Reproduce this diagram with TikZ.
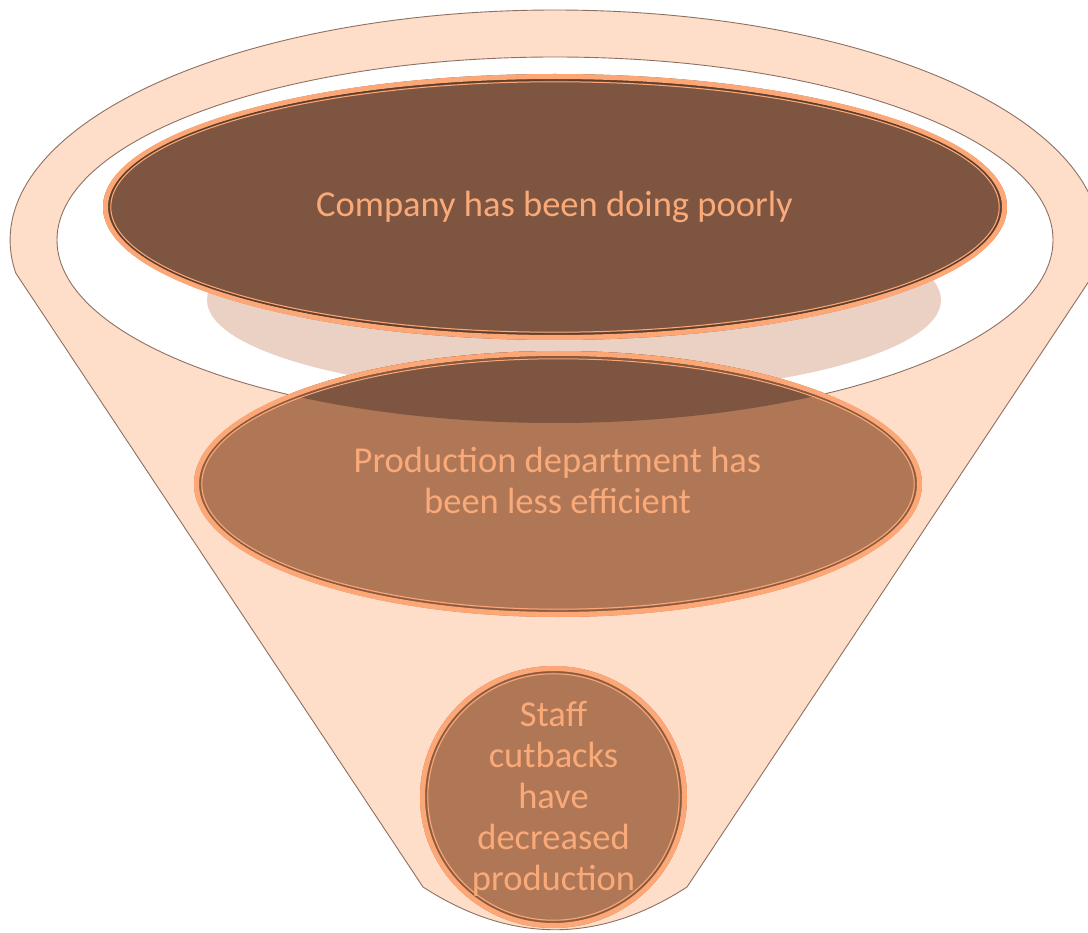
\documentclass[tikz,border=0pt]{standalone}
\usepackage{fontspec}
\setmainfont{Carlito}
\definecolor{funnelfill}{HTML}{FEDDC9}
\definecolor{funnelline}{HTML}{8E7061}
\definecolor{shadowc}{HTML}{EAD1C4}
\definecolor{topfill}{HTML}{7D5540}
\definecolor{prodfill}{HTML}{B07757}
\definecolor{bandc}{HTML}{FCA775}
\definecolor{topdark}{HTML}{5E3E2C}
\definecolor{proddark}{HTML}{8A5A3F}
\definecolor{textc}{HTML}{FAAA78}
\newcommand{\fancyell}[6]{%
  \fill[#5] (#1,#2) ellipse[x radius=#3pt, y radius=#4pt];
  \draw[bandc, line width=5pt] (#1,#2) ellipse[x radius=#3pt-2.5pt, y radius=#4pt-2.5pt];
  \draw[#6, line width=1.4pt] (#1,#2) ellipse[x radius=#3pt-6pt, y radius=#4pt-6pt];
  \draw[bandc, line width=1pt] (#1,#2) ellipse[x radius=#3pt-7.8pt, y radius=#4pt-7.8pt];
}
\tikzset{
  lbl/.style={text=textc, font=\fontsize{36.5}{41}\selectfont, align=center, inner sep=0pt},
  funnelstyle/.style={fill=funnelfill, draw=funnelline, line width=0.9pt},
}
\begin{document}
\begin{tikzpicture}[x=1pt,y=1pt]
\useasboundingbox (0,0) rectangle (1088,-933);
\clip (0,0) rectangle (1088,-933);
% funnel body
\draw[funnelstyle] (1094.4,-273)
  arc[start angle=-8.25, end angle=188.25, x radius=545pt, y radius=230pt]
  -- (423,-887)
  .. controls (511,-944) and (599,-944) .. (687,-887)
  -- cycle;
% inner opening
\draw[fill=white, draw=funnelline, line width=0.9pt] (555,-240) ellipse[x radius=498pt, y radius=183pt];
% shadow
\fill[shadowc] (574,-300) ellipse[x radius=367pt, y radius=95pt];
% top ellipse
\fancyell{555}{-207}{452}{133}{topfill}{topdark}
% production ellipse
\fill[prodfill] (558,-484) ellipse[x radius=364pt, y radius=133pt];
\begin{scope}
  \clip (555,-240) ellipse[x radius=498pt, y radius=183pt];
  \fill[topfill] (558,-484) ellipse[x radius=364pt, y radius=133pt];
\end{scope}
\draw[bandc, line width=5pt] (558,-484) ellipse[x radius=361.5pt, y radius=130.5pt];
\draw[proddark, line width=1.4pt] (558,-484) ellipse[x radius=358pt, y radius=127pt];
\draw[bandc, line width=1pt] (558,-484) ellipse[x radius=356.2pt, y radius=125.2pt];
% circle
\fancyell{553.5}{-797}{133.5}{131}{prodfill}{proddark}
% texts
\node[lbl, anchor=base] (t1) at (554.5,-217) {Company has been doing poorly};
\node[lbl, anchor=base] (t2) at (557.5,-513) {Production department has\\been less efficient};
\node[lbl, anchor=base] (t3) at (553.5,-890) {Staff\\cutbacks\\have\\decreased\\production};
\end{tikzpicture}
\end{document}
